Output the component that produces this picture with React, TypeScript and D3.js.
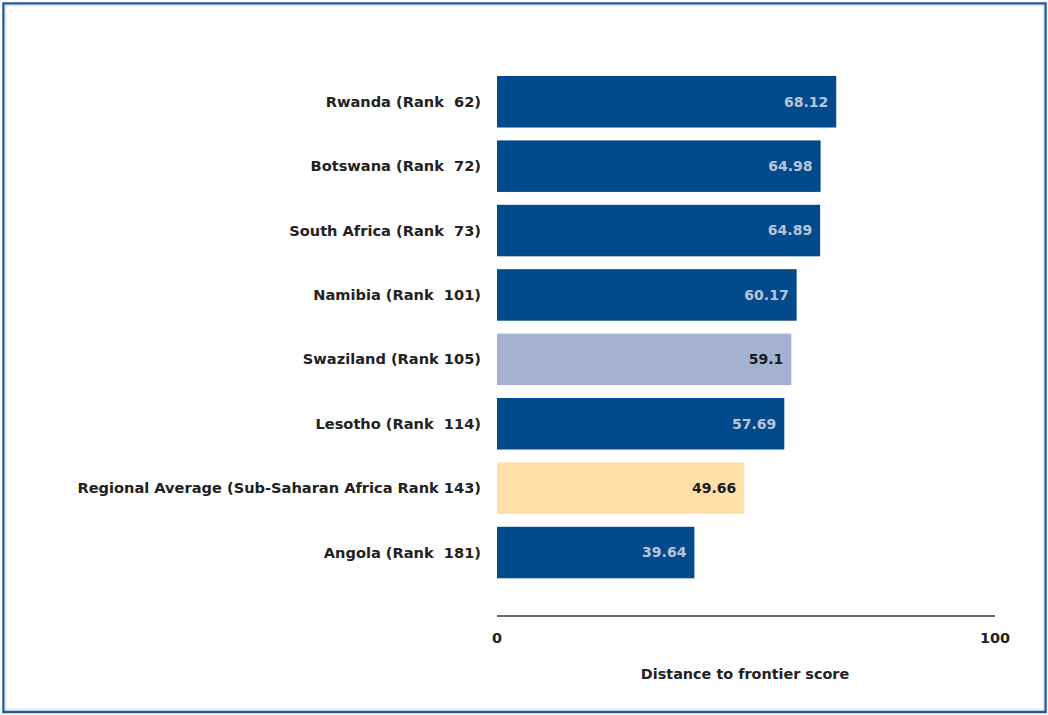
import React from "react";
import * as d3 from "d3";

const categories = [
  "Rwanda (Rank  62)",
  "Botswana (Rank  72)",
  "South Africa (Rank  73)",
  "Namibia (Rank  101)",
  "Swaziland (Rank 105)",
  "Lesotho (Rank  114)",
  "Regional Average (Sub-Saharan Africa Rank 143)",
  "Angola (Rank  181)",
];
const values = [68.12, 64.98, 64.89, 60.17, 59.1, 57.69, 49.66, 39.64];
const valueLabels = ["68.12", "64.98", "64.89", "60.17", "59.1", "57.69", "49.66", "39.64"];
const kinds = ["country", "country", "country", "country", "focus", "country", "average", "country"];
const xTicks = [0, 100];
const axisTitle = "Distance to frontier score";

const fills: Record<string, string> = { country: "#034a8c", focus: "#a4b1d3", average: "#ffe0a9" };
const textFills: Record<string, string> = { country: "#b9c4da", focus: "#1a1a1a", average: "#1a1a1a" };

export default function App() {
  const W = 1048, H = 715;
  const x = d3.scaleLinear().domain([0, 100]).range([497, 995]);
  const y = d3.scaleBand<string>().domain(categories).range([76, 578.3]).paddingInner(0.2).paddingOuter(0);
  const font = "'DejaVu Sans', Verdana, sans-serif";
  return (
    <svg width={W} height={H} style={{ position: "absolute", left: 0, top: 0 }}>
      <rect x={0} y={0} width={W} height={H} fill="#fff" />
      <rect x={3.5} y={3.5} width={1042} height={708.5} fill="none" stroke="#1f5a9a" strokeWidth={2.5} />
      <rect x={5} y={5} width={1039} height={705} fill="none" stroke="#b8cce4" strokeWidth={1} />
      {categories.map((c, i) => {
        const k = kinds[i];
        const y0 = y(c)!;
        const bw = y.bandwidth();
        return (
          <g key={c}>
            <rect x={x(0)} y={y0} width={x(values[i]) - x(0)} height={bw} fill={fills[k]} />
            <text x={x(values[i]) - 8} y={y0 + bw / 2} dy="0.35em" textAnchor="end" fontFamily={font}
              fontWeight="bold" fontSize={14} fill={textFills[k]}>{valueLabels[i]}</text>
            <text x={481} y={y0 + bw / 2} dy="0.35em" textAnchor="end" fontFamily={font}
              fontWeight="bold" fontSize={14.6} fill="#222" style={{ whiteSpace: "pre" }}>{c}</text>
          </g>
        );
      })}
      <line x1={x(0)} x2={x(100)} y1={616} y2={616} stroke="#666" strokeWidth={2} />
      {xTicks.map((t) => (
        <text key={t} x={x(t)} y={643} textAnchor="middle" fontFamily={font} fontWeight="bold"
          fontSize={14.4} fill="#222">{t}</text>
      ))}
      <text x={745} y={679} textAnchor="middle" fontFamily={font} fontWeight="bold" fontSize={14.4}
        fill="#222">{axisTitle}</text>
    </svg>
  );
}
